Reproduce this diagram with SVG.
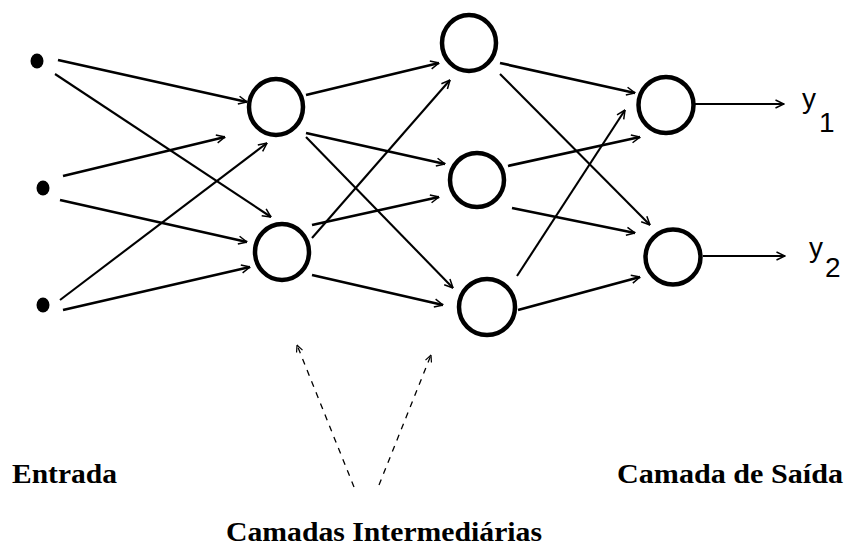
<svg xmlns="http://www.w3.org/2000/svg" width="850" height="549" viewBox="0 0 850 549">
<style>
.node{fill:none;stroke:#000;stroke-width:4.5}
.dot{fill:#000}
.edge{fill:none;stroke:#000;stroke-width:2.7;marker-end:url(#arr)}
.thin{stroke-width:2.1}
.out{fill:none;stroke:#000;stroke-width:2.2;marker-end:url(#arr)}
.dash{fill:none;stroke:#000;stroke-width:1.3;stroke-dasharray:6 6;marker-end:url(#darr)}
.lbl{font-family:"Liberation Serif","Times New Roman",serif;font-weight:bold;font-size:28px;fill:#000}
.y{font-family:"Liberation Sans",Arial,sans-serif;font-size:28px;fill:#000}
</style>
<defs>
<marker id="arr" viewBox="0 0 10 10" refX="9.5" refY="5" markerWidth="10" markerHeight="10" markerUnits="userSpaceOnUse" orient="auto">
<path d="M1,1 L9.5,5 L1,9" fill="none" stroke="#000" stroke-width="1.5"/>
</marker>
<marker id="darr" viewBox="0 0 10 10" refX="9.5" refY="5" markerWidth="8" markerHeight="8" markerUnits="userSpaceOnUse" orient="auto">
<path d="M1,1 L9.5,5 L1,9" fill="none" stroke="#000" stroke-width="1.5"/>
</marker>
</defs>
<rect width="850" height="549" fill="#fff"/>
<g id="connectors">
<line class="edge" x1="58" y1="60" x2="247" y2="102"/>
<line class="edge thin" x1="55" y1="74" x2="271" y2="217"/>
<line class="edge" x1="63" y1="176" x2="225" y2="137"/>
<line class="edge" x1="60" y1="200" x2="247" y2="242"/>
<line class="edge thin" x1="60" y1="300" x2="267" y2="143"/>
<line class="edge" x1="63" y1="310" x2="250" y2="267"/>
<line class="edge" x1="306" y1="95" x2="439" y2="63"/>
<line class="edge" x1="306" y1="133" x2="445" y2="164"/>
<line class="edge thin" x1="306" y1="137" x2="453" y2="288"/>
<line class="edge" x1="312" y1="225" x2="439" y2="197"/>
<line class="edge thin" x1="312" y1="238" x2="450" y2="80"/>
<line class="edge" x1="312" y1="275" x2="443" y2="305"/>
<line class="edge" x1="500" y1="63" x2="635" y2="93"/>
<line class="edge thin" x1="500" y1="74" x2="650" y2="225"/>
<line class="edge" x1="508" y1="166" x2="640" y2="137"/>
<line class="edge" x1="512" y1="208" x2="635" y2="233"/>
<line class="edge thin" x1="517" y1="276" x2="625" y2="110"/>
<line class="edge" x1="518" y1="310" x2="640" y2="277"/>
<line class="out" x1="695" y1="104" x2="784" y2="104"/>
<line class="out" x1="703" y1="256" x2="785" y2="256"/>
<line class="dash" x1="354" y1="487" x2="297" y2="345"/>
<line class="dash" x1="379" y1="485" x2="431" y2="355"/>
</g>
<g id="in1"><ellipse class="dot" cx="37" cy="61" rx="6.5" ry="7.5"/></g>
<g id="in2"><ellipse class="dot" cx="43" cy="188" rx="6.5" ry="7.5"/></g>
<g id="in3"><ellipse class="dot" cx="43" cy="305" rx="6.5" ry="7.5"/></g>
<g id="h1a"><ellipse class="node" cx="276" cy="107" rx="27" ry="28"/></g>
<g id="h1b"><ellipse class="node" cx="282" cy="252" rx="27" ry="28"/></g>
<g id="h2a"><ellipse class="node" cx="469" cy="43" rx="27" ry="28"/></g>
<g id="h2b"><ellipse class="node" cx="477" cy="180" rx="27" ry="27"/></g>
<g id="h2c"><ellipse class="node" cx="487" cy="307" rx="28" ry="28"/></g>
<g id="o1"><ellipse class="node" cx="666" cy="105" rx="27.5" ry="28"/>
<text class="y" x="802" y="108">y</text><text class="y" x="819" y="132">1</text></g>
<g id="o2"><ellipse class="node" cx="673" cy="257" rx="27.5" ry="27.5"/>
<text class="y" x="809" y="257">y</text><text class="y" x="825" y="277">2</text></g>
<g id="labels">
<text class="lbl" x="12" y="483" textLength="105" lengthAdjust="spacingAndGlyphs">Entrada</text>
<text class="lbl" x="617" y="483" textLength="226" lengthAdjust="spacingAndGlyphs">Camada de Saída</text>
<text class="lbl" x="226" y="541" textLength="316" lengthAdjust="spacingAndGlyphs">Camadas Intermediárias</text>
</g>
</svg>
